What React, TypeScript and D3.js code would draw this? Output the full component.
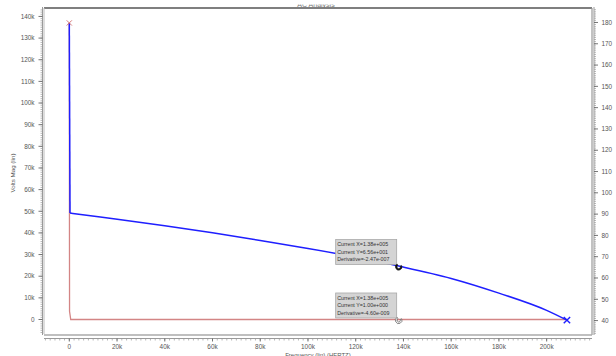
import React from "react";
import * as d3 from "d3";

// Frequency response traces (Hz)
const blueFreq = [0, 300, 13000, 40000, 60000, 80000, 100000, 120000, 138000, 160000, 180000, 200000, 208500];
const blueVals = [179.7, 90.5, 88.6, 84.5, 81.2, 77.6, 73.9, 69.8, 65.6, 59.8, 52.9, 44.8, 40.2];

const redFreq = [0, 100, 600, 50000, 100000, 150000, 208500];
const redVals = [137000, 3800, 1, 1, 1, 1, 1];

const xTicks = [0, 20000, 40000, 60000, 80000, 100000, 120000, 140000, 160000, 180000, 200000];
const leftTicks = [0, 10000, 20000, 30000, 40000, 50000, 60000, 70000, 80000, 90000, 100000, 110000, 120000, 130000, 140000];
const rightTicks = [40, 50, 60, 70, 80, 90, 100, 110, 120, 130, 140, 150, 160, 170, 180];

// Cursor readouts
const cursorFreq = 138000;
const blueReadout = ["Current X=1.38e+005", "Current Y=6.56e+001", "Derivative=-2.47e-007"];
const redReadout = ["Current X=1.38e+005", "Current Y=1.00e+000", "Derivative=-4.60e-009"];

const W = 616;
const H = 356;
const L = 44, R = 592, T = 8, B = 334;

const x = d3.scaleLinear().domain([-10600, 219000]).range([L, R]);
const yL = d3.scaleLinear().domain([-6700, 143900]).range([B, T]);
const yR = d3.scaleLinear().domain([33.7, 186.8]).range([B, T]);

const font = "'Liberation Sans', Arial, sans-serif";
const kfmt = (v: number) => (v === 0 ? "0" : `${v / 1000}k`);

function Cross({ cx, cy, r, color, w }: { cx: number; cy: number; r: number; color: string; w: number }) {
  return (
    <path
      d={`M${cx - r},${cy - r}L${cx + r},${cy + r}M${cx - r},${cy + r}L${cx + r},${cy - r}`}
      stroke={color}
      strokeWidth={w}
    />
  );
}

function Readout({ lines, px, py }: { lines: string[]; px: number; py: number }) {
  const bw = 61, bh = 25;
  const bx = px - 2 - bw;
  const by = py - 1.5 - bh;
  return (
    <g>
      <rect x={bx} y={by} width={bw} height={bh} fill="#d4d4d4" stroke="#a8a8a8" strokeWidth={0.8} />
      {lines.map((s, i) => (
        <text key={i} x={bx + 1.5} y={by + 5 + i * 7.5} dy="0.35em" fontSize={5.3} fill="#333" fontFamily={font}>
          {s}
        </text>
      ))}
    </g>
  );
}

function CursorGlyph({ cx, cy, fill }: { cx: number; cy: number; fill: string }) {
  const arc = d3.arc()({ innerRadius: 1.6, outerRadius: 3.3, startAngle: 0.35 * Math.PI, endAngle: 1.85 * Math.PI }) as string;
  return <path d={arc} transform={`translate(${cx},${cy})`} fill={fill} stroke="#222" strokeWidth={0.5} />;
}

export default function App() {
  const idx = blueFreq.map((_, i) => i);
  // steep initial drop is drawn straight; the rolloff afterwards is smoothed
  const blueDrop = d3
    .line<number>()
    .x((i) => x(blueFreq[i]))
    .y((i) => yR(blueVals[i]))(idx.slice(0, 2)) as string;
  const blueTail = d3
    .line<number>()
    .x((i) => x(blueFreq[i]))
    .y((i) => yR(blueVals[i]))
    .curve(d3.curveMonotoneX)(idx.slice(1)) as string;
  const redLine = d3
    .line<number>()
    .x((_, i) => x(redFreq[i]))
    .y((v) => yL(v))(redVals) as string;

  const xMinor = d3.range(-10000, 219000, 2000);
  const lMinor = d3.range(-6000, 144000, 1000);
  const rMinor = d3.range(34, 187, 1);

  const axisColor = "#9a9a9a";
  const labelColor = "#555";

  const bx = x(cursorFreq);
  const byBlue = yR(blueVals[blueFreq.indexOf(cursorFreq)]);
  const byRed = yL(1);

  return (
    <svg width={W} height={H} style={{ position: "absolute", left: 0, top: 0, background: "#fff" }}>
      <defs>
        <clipPath id="titleClip">
          <rect x={0} y={4.6} width={W} height={3} />
        </clipPath>
      </defs>
      <rect width={W} height={H} fill="#fff" />

      {/* title strip */}
      <text x={316} y={7} textAnchor="middle" fontSize={7} fill="#777" fontFamily={font} clipPath="url(#titleClip)">
        AC Analysis
      </text>

      {/* plot frame */}
      <line x1={L} x2={R} y1={T} y2={T} stroke="#555" strokeWidth={1.4} />
      <line x1={L} x2={L} y1={T} y2={B} stroke="#bbb" strokeWidth={1} />
      <line x1={R} x2={R} y1={T} y2={B + 1} stroke="#999" strokeWidth={1.2} />
      <line x1={L} x2={R} y1={B + 1} y2={B + 1} stroke="#aaa" strokeWidth={1.6} />

      {/* left axis */}
      <line x1={42.5} x2={42.5} y1={7} y2={B + 1} stroke={axisColor} strokeWidth={1} />
      {lMinor.map((v) => (
        <line key={v} x1={40.5} x2={42.5} y1={yL(v)} y2={yL(v)} stroke={axisColor} strokeWidth={0.7} />
      ))}
      {leftTicks.map((v) => (
        <g key={v}>
          <line x1={38.5} x2={42.5} y1={yL(v)} y2={yL(v)} stroke="#666" strokeWidth={0.9} />
          <text x={34.5} y={yL(v)} dy="0.35em" textAnchor="end" fontSize={6.4} fill={labelColor} fontFamily={font}>
            {kfmt(v)}
          </text>
        </g>
      ))}
      <text
        transform={`translate(12.5,173) rotate(-90)`}
        textAnchor="middle"
        dy="0.35em"
        fontSize={6.2}
        fill={labelColor}
        fontFamily={font}
      >
        Volts Mag (lin)
      </text>

      {/* right axis */}
      <line x1={594} x2={594} y1={7} y2={B + 1} stroke={axisColor} strokeWidth={1} />
      {rMinor.map((v) => (
        <line key={v} x1={594} x2={596} y1={yR(v)} y2={yR(v)} stroke={axisColor} strokeWidth={0.7} />
      ))}
      {rightTicks.map((v) => (
        <g key={v}>
          <line x1={594} x2={598} y1={yR(v)} y2={yR(v)} stroke="#666" strokeWidth={0.9} />
          <text x={601.5} y={yR(v)} dy="0.35em" fontSize={6.4} fill={labelColor} fontFamily={font}>
            {v}
          </text>
        </g>
      ))}

      {/* bottom axis */}
      <line x1={L} x2={R} y1={338.5} y2={338.5} stroke={axisColor} strokeWidth={1} />
      {xMinor.map((v) => (
        <line key={v} x1={x(v)} x2={x(v)} y1={338.5} y2={340.5} stroke={axisColor} strokeWidth={0.7} />
      ))}
      {xTicks.map((v) => (
        <g key={v}>
          <line x1={x(v)} x2={x(v)} y1={338.5} y2={341.5} stroke="#666" strokeWidth={0.9} />
          <text x={x(v)} y={347} dy="0.35em" textAnchor="middle" fontSize={6.4} fill={labelColor} fontFamily={font}>
            {kfmt(v)}
          </text>
        </g>
      ))}
      <text x={318} y={357} textAnchor="middle" fontSize={6} fill={labelColor} fontFamily={font}>
        Frequency (lin) (HERTZ)
      </text>

      {/* traces */}
      <path d={redLine} fill="none" stroke="#d38585" strokeWidth={1.3} />
      <path d={blueDrop} fill="none" stroke="#1f1fff" strokeWidth={1.5} />
      <path d={blueTail} fill="none" stroke="#1f1fff" strokeWidth={1.5} strokeLinejoin="round" />
      <Cross cx={x(redFreq[0])} cy={yL(redVals[0])} r={2.6} color="#d06a6a" w={0.9} />
      <Cross
        cx={x(blueFreq[blueFreq.length - 1])}
        cy={yR(blueVals[blueVals.length - 1])}
        r={3.2}
        color="#1f1fff"
        w={1.4}
      />

      {/* cursor readouts */}
      <Readout lines={blueReadout} px={bx} py={byBlue} />
      <Readout lines={redReadout} px={bx} py={byRed} />
      <CursorGlyph cx={bx} cy={byBlue + 0.8} fill="#111" />
      <CursorGlyph cx={bx} cy={byRed + 0.8} fill="#eee" />
    </svg>
  );
}
